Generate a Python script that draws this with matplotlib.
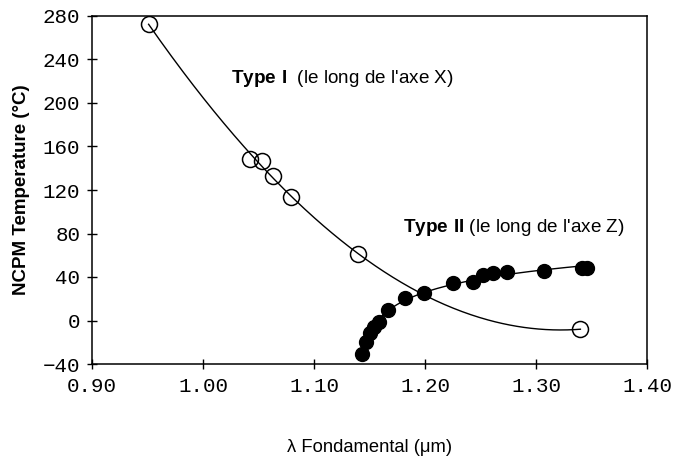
import numpy as np
import matplotlib.pyplot as plt

plt.rcParams["mathtext.fontset"] = "custom"
plt.rcParams["mathtext.rm"] = "Liberation Sans"
plt.rcParams["mathtext.bf"] = "Liberation Sans:bold"

# Type I (le long de l'axe X) - open circles
x_type1 = [0.951, 1.042, 1.053, 1.063, 1.079, 1.140, 1.340]
t_type1 = [272.6, 148.5, 147.0, 133.0, 113.3, 61.0, -8.0]

# Type II (le long de l'axe Z) - filled circles
x_type2 = [1.143, 1.147, 1.150, 1.154, 1.159, 1.167, 1.182, 1.199,
           1.225, 1.243, 1.2525, 1.2615, 1.274, 1.3075, 1.341, 1.346]
t_type2 = [-30.8, -19.5, -11.8, -6.3, -1.1, 9.7, 20.4, 25.0,
           34.2, 35.7, 41.8, 43.4, 44.3, 45.8, 48.0, 48.0]

x_ticks = [0.90, 1.00, 1.10, 1.20, 1.30, 1.40]
y_ticks = [-40, 0, 40, 80, 120, 160, 200, 240, 280]

# smooth fitted curves
c1 = np.polyfit(x_type1, t_type1, 3)
xs1 = np.linspace(min(x_type1), max(x_type1), 300)
ys1 = np.polyval(c1, xs1)

shift = 1.138
c2 = np.polyfit(np.log(np.array(x_type2) - shift), t_type2, 2)
xs2 = np.linspace(min(x_type2), max(x_type2), 300)
ys2 = np.polyval(c2, np.log(xs2 - shift))

W, H = 674, 459
fig = plt.figure(figsize=(W / 100, H / 100), dpi=100)
ax = fig.add_axes([92 / W, 1 - 364 / H, 555 / W, 348 / H])

ax.plot(xs1, ys1, color="black", linewidth=1.0)
ax.plot(xs2, ys2, color="black", linewidth=1.0)
ax.plot(x_type1, t_type1, linestyle="none", marker="o", markersize=11.5,
        markerfacecolor="none", markeredgecolor="black", markeredgewidth=1.1)
ax.plot(x_type2, t_type2, linestyle="none", marker="o", markersize=10,
        color="black")

fig.text(231 / W, 1 - 78 / H, r"$\mathbf{Type\ I}$  (le long de l'axe X)",
         fontsize=13.6, family="Liberation Sans", va="center", ha="left")
fig.text(403 / W, 1 - 227 / H, r"$\mathbf{Type\ II}$ (le long de l'axe Z)",
         fontsize=13.6, family="Liberation Sans", va="center", ha="left")

ax.set_xlim(0.90, 1.40)
ax.set_ylim(-40, 280)
ax.set_xticks(x_ticks)
ax.set_yticks(y_ticks)
ax.set_xticklabels([f"{v:.2f}" for v in x_ticks])
ax.set_yticklabels([("\u2212" + str(-v)) if v < 0 else str(v) for v in y_ticks])
ax.tick_params(direction="inout", length=7, width=1.0, labelsize=15)
ax.tick_params(axis="x", pad=6)
ax.tick_params(axis="y", pad=5)
for lab in ax.get_xticklabels() + ax.get_yticklabels():
    lab.set_family("Liberation Mono")
for sp in ax.spines.values():
    sp.set_linewidth(1.1)

fig.text(22 / W, 1 - 190 / H, "NCPM Temperature (\u00b0C)", rotation=90,
         ha="center", va="center", fontsize=13.5, fontweight="bold",
         family="Liberation Sans")
fig.text(370 / W, 1 - 448 / H, "\u03bb Fondamental (\u03bcm)",
         ha="center", va="center", fontsize=13.2, family="Liberation Sans")

fig.savefig("out.png", dpi=100)
